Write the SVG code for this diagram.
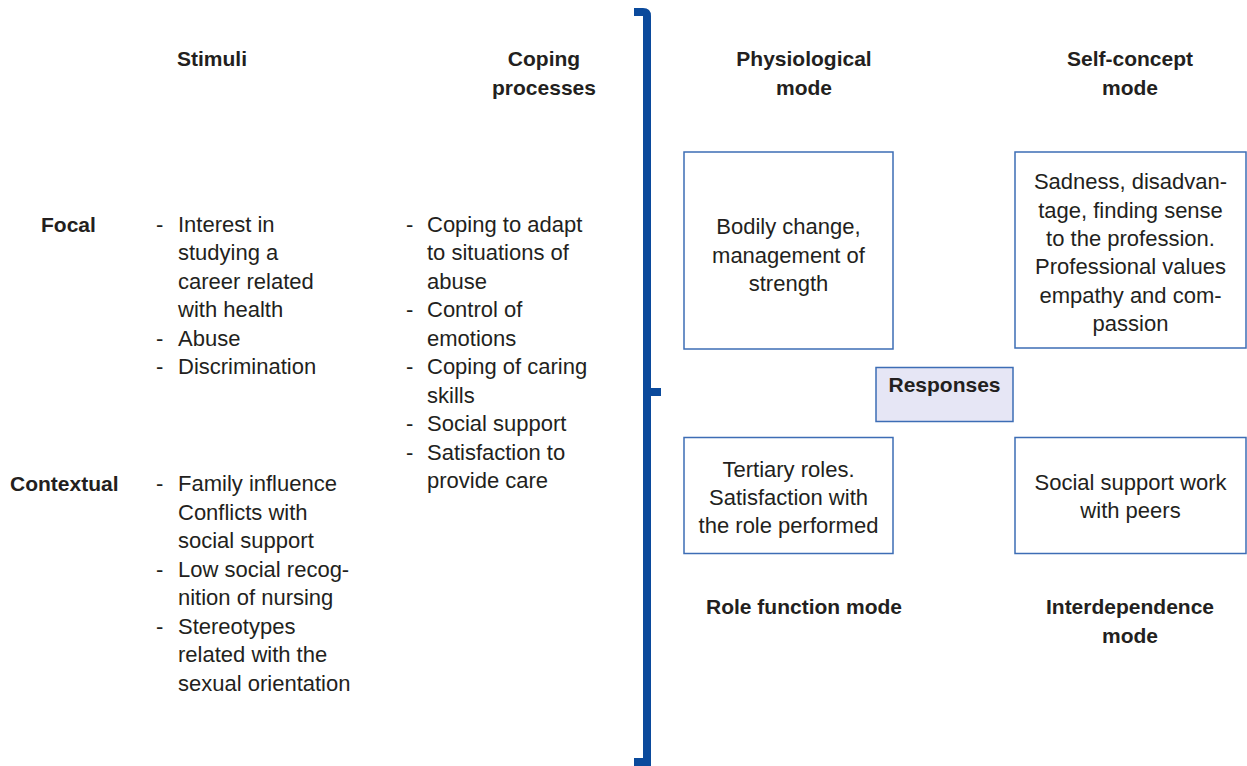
<svg xmlns="http://www.w3.org/2000/svg" width="1247" height="766" viewBox="0 0 1247 766">
<style>
text{font-family:"Liberation Sans",Arial,sans-serif;fill:#231f20}
.b{font-weight:bold;font-size:21px}
.r{font-size:22px}
.m{text-anchor:middle}
.box{fill:#fff;stroke:#3d6db5;stroke-width:1.5}
.resp{fill:#e6e6f5;stroke:#3d6db5;stroke-width:1.5}
.br{fill:none;stroke:#0b4a9c;stroke-width:8}
</style>
<rect width="1247" height="766" fill="#fff"/>
<g id="headers">
<text class="b" x="177" y="66">Stimuli</text>
<text class="b m" x="544" y="66">Coping</text>
<text class="b m" x="544" y="95">processes</text>
<text class="b m" x="804" y="66">Physiological</text>
<text class="b m" x="804" y="95">mode</text>
<text class="b m" x="1130" y="66">Self-concept</text>
<text class="b m" x="1130" y="95">mode</text>
<text class="b m" x="804" y="614">Role function mode</text>
<text class="b m" x="1130" y="614">Interdependence</text>
<text class="b m" x="1130" y="643">mode</text>
</g>
<g id="focal">
<text class="b" x="41" y="231.5">Focal</text>
<text class="r" x="156" y="231.5">-</text>
<text class="r" x="178" y="231.5">Interest in</text>
<text class="r" x="178" y="260">studying a</text>
<text class="r" x="178" y="288.5">career related</text>
<text class="r" x="178" y="317">with health</text>
<text class="r" x="156" y="345.5">-</text>
<text class="r" x="178" y="345.5">Abuse</text>
<text class="r" x="156" y="374">-</text>
<text class="r" x="178" y="374">Discrimination</text>
</g>
<g id="contextual">
<text class="b" x="10" y="491">Contextual</text>
<text class="r" x="156" y="491">-</text>
<text class="r" x="178" y="491">Family influence</text>
<text class="r" x="178" y="519.5">Conflicts with</text>
<text class="r" x="178" y="548">social support</text>
<text class="r" x="156" y="576.5">-</text>
<text class="r" x="178" y="576.5">Low social recog-</text>
<text class="r" x="178" y="605">nition of nursing</text>
<text class="r" x="156" y="633.5">-</text>
<text class="r" x="178" y="633.5">Stereotypes</text>
<text class="r" x="178" y="662">related with the</text>
<text class="r" x="178" y="690.5">sexual orientation</text>
</g>
<g id="coping">
<text class="r" x="406" y="231.5">-</text>
<text class="r" x="427" y="231.5">Coping to adapt</text>
<text class="r" x="427" y="260">to situations of</text>
<text class="r" x="427" y="288.5">abuse</text>
<text class="r" x="406" y="317">-</text>
<text class="r" x="427" y="317">Control of</text>
<text class="r" x="427" y="345.5">emotions</text>
<text class="r" x="406" y="374">-</text>
<text class="r" x="427" y="374">Coping of caring</text>
<text class="r" x="427" y="402.5">skills</text>
<text class="r" x="406" y="431">-</text>
<text class="r" x="427" y="431">Social support</text>
<text class="r" x="406" y="459.5">-</text>
<text class="r" x="427" y="459.5">Satisfaction to</text>
<text class="r" x="427" y="488">provide care</text>
</g>
<g id="connectors">
<path class="br" d="M634,12 H643 Q647,12 647,16 V762 H634"/>
<path class="br" d="M647,392 H661"/>
</g>
<g id="physiological">
<rect class="box" x="684" y="152" width="209" height="197"/>
<text class="r m" x="788.5" y="234.3">Bodily change,</text>
<text class="r m" x="788.5" y="262.7">management of</text>
<text class="r m" x="788.5" y="291">strength</text>
</g>
<g id="selfconcept">
<rect class="box" x="1015" y="152" width="231" height="196"/>
<text class="r m" x="1130.5" y="189.3">Sadness, disadvan-</text>
<text class="r m" x="1130.5" y="217.7">tage, finding sense</text>
<text class="r m" x="1130.5" y="246">to the profession.</text>
<text class="r m" x="1130.5" y="274.3">Professional values</text>
<text class="r m" x="1130.5" y="302.7">empathy and com-</text>
<text class="r m" x="1130.5" y="331">passion</text>
</g>
<g id="responses">
<rect class="resp" x="876" y="367.5" width="137" height="54"/>
<text class="b m" x="944.5" y="392">Responses</text>
</g>
<g id="role">
<rect class="box" x="684" y="437.5" width="209" height="116"/>
<text class="r m" x="788.5" y="476.7">Tertiary roles.</text>
<text class="r m" x="788.5" y="505">Satisfaction with</text>
<text class="r m" x="788.5" y="533.3">the role performed</text>
</g>
<g id="interdependence">
<rect class="box" x="1015" y="437.5" width="231" height="116"/>
<text class="r m" x="1130.5" y="490">Social support work</text>
<text class="r m" x="1130.5" y="518.3">with peers</text>
</g>
</svg>
